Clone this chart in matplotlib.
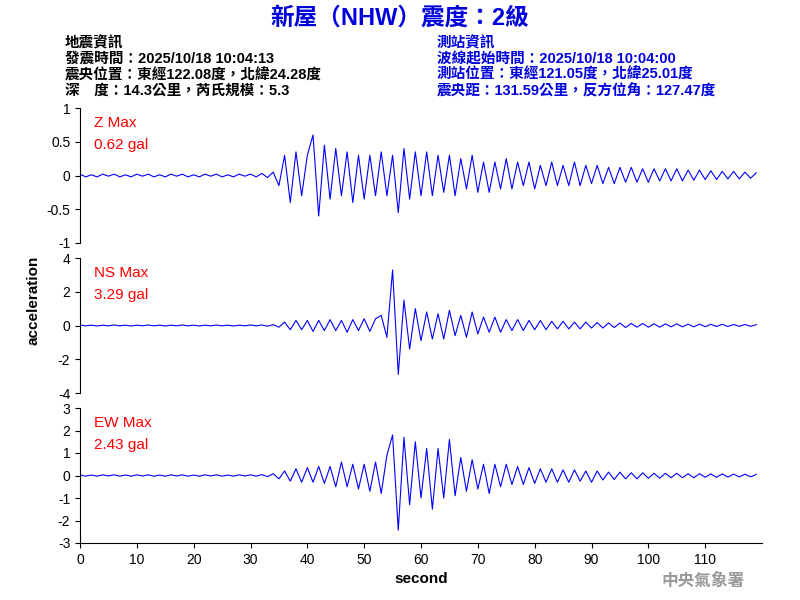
import numpy as np
import matplotlib
matplotlib.use("Agg")
import matplotlib.pyplot as plt

plt.rcParams['font.family'] = ['Liberation Sans', 'Noto Sans CJK TC']

# peak values read per second (alternating swings), t = 0..119 s
time_s = list(range(120))
z_vals = [0.02,-0.02,0.01,-0.02,0.02,-0.01,0.02,-0.02,0.01,-0.02,
          0.02,-0.01,0.02,-0.02,0.01,-0.02,0.02,-0.01,0.02,-0.02,
          0.01,-0.02,0.02,-0.01,0.02,-0.02,0.01,-0.02,0.02,-0.01,
          0.02,-0.02,0.03,-0.03,0.05,-0.15,0.3,-0.4,0.35,-0.3,
          0.3,0.6,-0.6,0.45,-0.35,0.4,-0.3,0.35,-0.4,0.3,
          -0.35,0.3,-0.3,0.35,-0.3,0.3,-0.55,0.4,-0.35,0.35,
          -0.3,0.35,-0.3,0.3,-0.25,0.3,-0.3,0.25,-0.2,0.3,
          -0.25,0.2,-0.25,0.2,-0.2,0.25,-0.2,0.2,-0.15,0.2,
          -0.2,0.15,-0.15,0.2,-0.15,0.15,-0.15,0.2,-0.15,0.15,
          -0.12,0.15,-0.12,0.12,-0.12,0.12,-0.1,0.12,-0.1,0.1,
          -0.1,0.1,-0.08,0.1,-0.08,0.1,-0.08,0.08,-0.07,0.08,
          -0.06,0.07,-0.06,0.06,-0.05,0.06,-0.05,0.05,-0.04,0.04]
ns_vals = [0.03,-0.02,0.02,-0.03,0.02,-0.02,0.03,-0.02,0.02,-0.03,
           0.02,-0.02,0.03,-0.02,0.02,-0.03,0.02,-0.02,0.03,-0.02,
           0.02,-0.03,0.02,-0.02,0.03,-0.02,0.02,-0.03,0.02,-0.02,
           0.03,-0.02,0.03,-0.04,0.05,-0.1,0.2,-0.25,0.3,-0.25,
           0.3,-0.35,0.3,-0.3,0.35,-0.3,0.3,-0.4,0.35,-0.3,
           0.4,-0.35,0.4,0.6,-0.7,3.29,-2.9,1.5,-1.4,1.0,
           -0.9,0.8,-0.8,0.7,-0.8,0.9,-0.6,0.6,-0.7,0.8,
           -0.5,0.5,-0.4,0.5,-0.4,0.35,-0.3,0.35,-0.3,0.3,
           -0.25,0.3,-0.25,0.25,-0.2,0.25,-0.2,0.2,-0.2,0.2,
           -0.15,0.18,-0.15,0.15,-0.12,0.15,-0.12,0.12,-0.1,0.12,
           -0.1,0.1,-0.1,0.1,-0.08,0.1,-0.08,0.08,-0.08,0.08,
           -0.07,0.07,-0.06,0.07,-0.06,0.06,-0.05,0.06,-0.05,0.05]
ew_vals = [0.03,-0.03,0.02,-0.03,0.03,-0.02,0.03,-0.03,0.02,-0.03,
           0.03,-0.02,0.03,-0.03,0.02,-0.03,0.03,-0.02,0.03,-0.03,
           0.02,-0.03,0.03,-0.02,0.03,-0.03,0.02,-0.03,0.03,-0.02,
           0.03,-0.03,0.04,-0.05,0.08,-0.15,0.2,-0.25,0.3,-0.3,
           0.35,-0.3,0.4,-0.35,0.4,-0.5,0.6,-0.5,0.5,-0.6,
           0.5,-0.7,0.6,-0.8,0.9,1.8,-2.43,1.7,-1.3,1.5,
           -1.0,1.2,-1.5,1.2,-1.0,1.6,-0.9,0.8,-0.7,0.7,
           -0.6,0.5,-0.8,0.5,-0.5,0.5,-0.4,0.4,-0.4,0.35,
           -0.35,0.3,-0.3,0.3,-0.3,0.25,-0.3,0.25,-0.25,0.2,
           -0.3,0.2,-0.2,0.15,-0.18,0.15,-0.15,0.12,-0.15,0.12,
           -0.12,0.1,-0.12,0.1,-0.1,0.1,-0.1,0.08,-0.1,0.08,
           -0.08,0.07,-0.08,0.07,-0.07,0.06,-0.06,0.06,-0.06,0.05]

channels = ['Z Max', 'NS Max', 'EW Max']
max_gal = ['0.62 gal', '3.29 gal', '2.43 gal']
ylims = [(-1, 1), (-4, 4), (-3, 3)]
yticks = [[-1, -0.5, 0, 0.5, 1], [-4, -2, 0, 2, 4], [-3, -2, -1, 0, 1, 2, 3]]
series = [z_vals, ns_vals, ew_vals]

W, H = 800, 600
fig = plt.figure(figsize=(8, 6), dpi=100)
tops = [108, 258, 408]
for i, top in enumerate(tops):
    ax = fig.add_axes([80 / W, 1 - (top + 135) / H, 682 / W, 135 / H])
    ax.plot(time_s, series[i], color='blue', lw=0.8)
    ax.set_xlim(0, 120)
    ax.set_ylim(*ylims[i])
    ax.set_yticks(yticks[i])
    ax.set_yticklabels([f'{v:g}' for v in yticks[i]], fontsize=10)
    for s in ['top', 'right']:
        ax.spines[s].set_visible(False)
    if i < 2:
        ax.spines['bottom'].set_visible(False)
        ax.set_xticks([])
    else:
        ax.set_xticks(range(0, 120, 10))
        ax.tick_params(axis='x', labelsize=10)
        ax.set_xlabel('second', fontsize=11, fontweight='bold')
    ax.text(0.02, 0.94, channels[i], transform=ax.transAxes, color='red', fontsize=11, va='top')
    ax.text(0.02, 0.78, max_gal[i], transform=ax.transAxes, color='red', fontsize=11, va='top')

fig.text(33 / W, 0.5, 'acceleration', rotation=90, ha='center', va='center',
         fontsize=11, fontweight='bold')
fig.text(0.5, 1 - 18 / H, '新屋（NHW）震度：2級', color='#0000dd', fontsize=17,
         fontweight='bold', ha='center', va='center')

left_info = ['地震資訊', '發震時間：2025/10/18 10:04:13',
             '震央位置：東經122.08度，北緯24.28度', '深　度：14.3公里，芮氏規模：5.3']
right_info = ['測站資訊', '波線起始時間：2025/10/18 10:04:00',
              '測站位置：東經121.05度，北緯25.01度', '震央距：131.59公里，反方位角：127.47度']
for k in range(4):
    y = 1 - (43 + 16 * k) / H
    fig.text(65 / W, y, left_info[k], color='black', fontsize=10.5, va='center', fontweight='bold')
    fig.text(437 / W, y, right_info[k], color='#0000dd', fontsize=10.5, va='center', fontweight='bold')

fig.text(745 / W, 1 - 581 / H, '中央氣象署', color='#999999', fontsize=12,
         fontweight='bold', ha='right', va='center')

fig.savefig('out.png', dpi=100)
